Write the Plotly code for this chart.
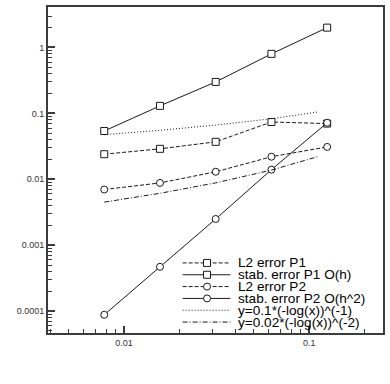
import plotly.graph_objects as go

# ---- data ----
h = [0.0078125, 0.015625, 0.03125, 0.0625, 0.125]
l2_p1 = [0.024, 0.029, 0.037, 0.074, 0.070]
stab_p1 = [0.054, 0.13, 0.30, 0.80, 2.0]
l2_p2 = [0.0070, 0.0088, 0.013, 0.022, 0.031]
stab_p2 = [0.000088, 0.00047, 0.0025, 0.014, 0.072]
ref_x = [0.0078125, 0.015625, 0.03125, 0.0625, 0.111]
ref1_y = [0.0475, 0.0554, 0.0664, 0.0830, 0.1048]
ref2_y = [0.0045, 0.00613, 0.00883, 0.0138, 0.0220]

names = ["L2 error P1", "stab. error P1 O(h)", "L2 error P2",
         "stab. error P2 O(h^2)", "y=0.1*(-log(x))^(-1)", "y=0.02*(-log(x))^(-2)"]
xtick_vals = [0.01, 0.1]
xtick_text = ["0.01", "0.1"]
ytick_vals = [0.0001, 0.001, 0.01, 0.1, 1]
ytick_text = ["0.0001", "0.001", "0.01", "0.1", "1"]

INK = "#1a1a1a"
FRAME = "#3c3c3c"

styles = [
    dict(dash="4px,2px", symbol="square"),
    dict(dash="solid", symbol="square"),
    dict(dash="4px,2px", symbol="circle"),
    dict(dash="solid", symbol="circle"),
    dict(dash="1px,2px", symbol=None),
    dict(dash="5px,2px,1px,2px", symbol=None),
]
series = [(h, l2_p1), (h, stab_p1), (h, l2_p2), (h, stab_p2), (ref_x, ref1_y), (ref_x, ref2_y)]

fig = go.Figure()
for (xs, ys), st, nm in zip(series, styles, names):
    mode = "lines+markers" if st["symbol"] else "lines"
    fig.add_trace(go.Scatter(
        x=xs, y=ys, mode=mode, name=nm, showlegend=False,
        line=dict(color=INK, width=1, dash=st["dash"]),
        marker=dict(symbol=st["symbol"] or "circle", size=7, color="white",
                    line=dict(color=INK, width=1)),
    ))

# ---- custom compact legend on an overlay pixel-scaled axis ----
L, R, T, B = 48, 384, 5, 333
row_y = [262.5, 274.4, 286.3, 298.2, 310.1, 322.0]
lx0, lx1, lmid, tx = 183, 231, 207.5, 237
for yy, st, nm in zip(row_y, styles, names):
    fig.add_trace(go.Scatter(
        x=[lx0, lx1], y=[yy, yy], mode="lines", xaxis="x2", yaxis="y2",
        showlegend=False, hoverinfo="skip",
        line=dict(color=INK, width=1, dash=st["dash"])))
    if st["symbol"]:
        fig.add_trace(go.Scatter(
            x=[lmid], y=[yy], mode="markers", xaxis="x2", yaxis="y2",
            showlegend=False, hoverinfo="skip",
            marker=dict(symbol=st["symbol"], size=7, color="white",
                        line=dict(color=INK, width=1))))
    fig.add_annotation(x=tx, y=yy, xref="x2", yref="y2", text=nm,
                       showarrow=False, xanchor="left", yanchor="middle",
                       font=dict(family="Liberation Sans, Arial", size=13.6, color="black"))

axis_common = dict(
    type="log", showgrid=False, zeroline=False,
    showline=True, linecolor=FRAME, linewidth=2, mirror=True,
    ticks="inside", ticklen=7, tickwidth=1.5, tickcolor=FRAME,
    tickfont=dict(family="Liberation Sans, Arial", size=9, color="#333"),
    minor=dict(ticks="inside", ticklen=4, tickwidth=1, tickcolor=FRAME,
               dtick="D1", showgrid=False),
)

fig.update_layout(
    width=390, height=384,
    margin=dict(l=L, r=390 - R, t=T, b=384 - B),
    paper_bgcolor="white", plot_bgcolor="white",
    showlegend=False, hovermode=False,
    xaxis=dict(**axis_common, range=[-2.411, -0.6015],
               tickmode="array", tickvals=xtick_vals, ticktext=xtick_text),
    yaxis=dict(**axis_common, range=[-4.332, 0.614],
               tickmode="array", tickvals=ytick_vals, ticktext=ytick_text),
    xaxis2=dict(overlaying="x", range=[L, R], visible=False, fixedrange=True),
    yaxis2=dict(overlaying="y", range=[B, T], visible=False, fixedrange=True),
)

fig.write_html("out.html", config={"displayModeBar": False},
               post_script="document.body.style.margin='0';document.body.style.overflow='hidden';")
